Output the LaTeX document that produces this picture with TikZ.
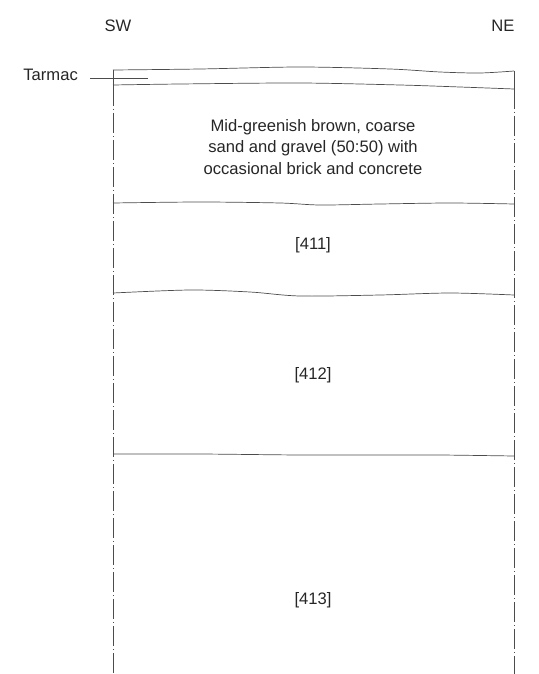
\documentclass[tikz,border=0pt]{standalone}
\usepackage{fontspec}
\setmainfont{Liberation Sans}
\begin{document}
\begin{tikzpicture}[x=1pt,y=-1pt,
  lbl/.style={font=\fontsize{16.6}{20}\selectfont, text=black!85, inner sep=0pt},
  edge/.style={draw=black!70, line width=0.6pt, dash pattern=on 20pt off 3pt on 1pt off 3pt},
  wave/.style={draw=black!70, line width=0.7pt}]
\useasboundingbox (0,0) rectangle (538,674);
% headings
\node[lbl] (sw) at (118,26) {SW};
\node[lbl] (ne) at (503,26) {NE};
\node[lbl, anchor=east] (tarmac) at (78,75) {Tarmac};
\coordinate (tend) at (148,78);
\draw[black!70, line width=0.6pt] (90,78) -- (tend);
% side walls
\coordinate (lt) at (113,70);
\coordinate (lb) at (113,674);
\coordinate (rt) at (514,72);
\coordinate (rb) at (514,674);
\draw[black!70, line width=0.6pt] (113,70) -- (113,86);
\draw[black!70, line width=0.6pt] (514,71) -- (514,89);
\draw[edge] (113,86) -- (lb);
\draw[edge] (514,89) -- (rb);
% tarmac layer
\draw[wave] plot[smooth, tension=0.5] coordinates {(113,70) (200,69) (300,67) (390,69) (440,72) (480,73) (514,71)};
\draw[wave] plot[smooth, tension=0.5] coordinates {(113,85) (180,84) (300,83) (400,85) (460,87) (514,89)};
% layer boundaries
\draw[wave] plot[smooth, tension=0.5] coordinates {(113,203) (200,202) (280,203) (320,205) (380,204) (450,203) (514,204)};
\draw[wave] plot[smooth, tension=0.5] coordinates {(113,293) (190,290) (250,292) (300,296) (380,295) (450,293) (514,295)};
\draw[wave] plot[smooth, tension=0.5] coordinates {(113,454) (200,454) (300,455) (380,455) (440,455) (514,456)};
% labels
\node[lbl, align=center, font=\fontsize{16.6}{21.5}\selectfont] (l0) at (313,147) {Mid-greenish brown, coarse\\sand and gravel (50:50) with\\occasional brick and concrete};
\node[lbl] (l411) at (313,245) {[411]};
\node[lbl] (l412) at (313,375) {[412]};
\node[lbl] (l413) at (313,600) {[413]};
\end{tikzpicture}
\end{document}
